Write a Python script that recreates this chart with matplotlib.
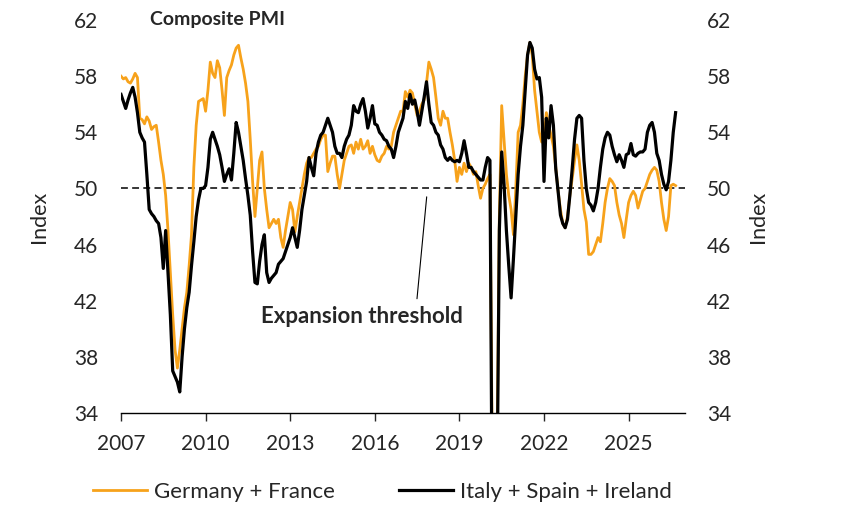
import numpy as np
import matplotlib
matplotlib.use('Agg')
import matplotlib.pyplot as plt

plt.rcParams['font.family'] = ['Lato', 'DejaVu Sans']

# monthly composite PMI, Jan 2007 onwards
ger_fra = [
    58.0, 57.8, 57.9, 57.6, 57.5, 57.8, 58.2, 57.9, 55.0, 54.9, 54.6, 55.1,  # 2007
    54.8, 54.2, 54.4, 54.5, 53.3, 52.0, 51.0, 49.5, 47.0, 44.0, 41.0, 38.5,  # 2008
    37.2, 38.5, 40.0, 41.5, 42.6, 44.5, 46.7, 51.5, 54.5, 56.2, 56.3, 56.4,  # 2009
    55.5, 57.0, 59.0, 58.2, 57.9, 59.1, 58.6, 57.0, 55.2, 57.9, 58.4, 58.8,  # 2010
    59.5, 60.0, 60.2, 59.3, 58.5, 57.5, 56.2, 53.5, 50.5, 48.0, 50.0, 52.0,  # 2011
    52.6, 50.0, 48.5, 47.2, 47.5, 47.8, 47.5, 47.8, 46.5, 45.8, 47.0, 48.0,  # 2012
    49.0, 48.5, 46.9, 48.0, 49.0, 50.0, 51.0, 51.8, 52.2, 52.2, 52.5, 52.8,  # 2013
    53.0, 53.5, 53.8, 53.8, 51.2, 51.8, 52.3, 52.3, 51.0, 50.0, 51.0, 52.0,  # 2014
    52.5, 53.0, 53.1, 52.5, 53.3, 52.8, 53.5, 52.8, 53.0, 53.4, 52.5, 53.0,  # 2015
    52.4, 52.0, 51.9, 52.3, 52.5, 53.0, 52.8, 53.0, 54.0, 54.5, 55.0, 55.5,  # 2016
    55.5, 56.9, 56.5, 57.0, 56.8, 56.0, 55.2, 55.5, 56.0, 56.3, 57.5, 59.0,  # 2017
    58.5, 57.9, 56.5, 55.0, 54.5, 55.5, 55.0, 55.0, 54.0, 53.1, 52.0, 50.5,  # 2018
    51.5, 51.0, 51.8, 51.2, 51.8, 51.5, 51.0, 51.2, 50.2, 49.3, 50.0, 50.3,  # 2019
    50.7, 51.0, 30.0, 13.0, 31.0, 48.0, 55.9, 53.5, 51.0, 49.5, 48.5, 46.7,  # 2020
    50.0, 54.0, 54.5, 56.0, 58.0, 59.5, 60.4, 59.5, 57.0, 55.5, 54.0, 53.3,  # 2021
    53.6, 55.4, 54.5, 53.8, 53.0, 51.5, 49.8, 48.5, 47.5, 47.2, 48.0, 49.5,  # 2022
    50.7, 52.0, 53.1, 52.0, 50.3, 48.5, 47.6, 45.3, 45.3, 45.5, 46.0, 46.5,  # 2023
    46.2, 47.5, 49.0, 50.0, 50.7, 50.5, 50.2, 49.0, 48.1, 47.5, 46.5, 47.8,  # 2024
    49.0, 49.5, 49.8, 49.5, 48.6, 49.2, 49.8, 50.0, 50.5, 51.0, 51.3, 51.5,  # 2025
    51.3, 50.5, 49.0, 47.8, 47.0, 48.0, 50.2, 50.3, 50.2,                    # 2026
]

ita_esp_irl = [
    56.7, 56.2, 55.7, 56.3, 56.8, 57.2, 56.5, 55.4, 54.0, 53.6, 53.3, 51.0,  # 2007
    48.5, 48.2, 48.0, 47.7, 47.5, 46.5, 44.3, 47.0, 44.0, 41.0, 37.0, 36.6,  # 2008
    36.2, 35.5, 38.0, 40.0, 41.5, 42.6, 44.5, 46.2, 48.0, 49.2, 50.0, 50.0,  # 2009
    50.2, 51.5, 53.5, 54.0, 53.5, 53.0, 52.4, 51.5, 50.5, 51.0, 51.4, 50.6,  # 2010
    52.5, 54.7, 54.0, 53.0, 52.0, 50.7, 49.5, 48.1, 45.5, 43.3, 43.2, 44.8,  # 2011
    46.0, 46.7, 44.0, 43.3, 43.6, 43.8, 44.0, 44.6, 44.8, 45.0, 45.5, 46.0,  # 2012
    46.5, 47.2, 46.5, 45.8, 47.0, 48.5, 49.5, 50.5, 52.2, 51.5, 50.9, 52.5,  # 2013
    53.3, 53.8, 54.0, 54.5, 55.0, 54.5, 54.0, 53.0, 52.5, 52.5, 52.2, 53.0,  # 2014
    53.5, 53.8, 54.5, 55.9, 55.5, 55.4, 56.0, 56.4, 55.5, 54.3, 55.0, 55.9,  # 2015
    54.6, 54.5, 54.0, 53.8, 53.5, 53.4, 53.0, 52.8, 52.2, 53.0, 54.0, 54.5,  # 2016
    55.0, 56.2, 55.7, 56.7, 56.0, 56.3, 55.5, 54.5, 55.5, 56.5, 57.6, 56.0,  # 2017
    54.7, 54.5, 54.0, 53.8, 53.1, 52.8, 52.2, 52.0, 52.2, 52.0, 51.9, 52.0,  # 2018
    51.9, 52.5, 53.4, 52.5, 51.5, 51.5, 51.2, 51.0, 50.8, 50.6, 50.6, 51.5,  # 2019
    52.2, 52.0, 25.0, 11.0, 28.0, 47.0, 52.6, 50.3, 47.0, 44.5, 42.2, 45.0,  # 2020
    48.0, 51.0, 53.0, 54.5, 57.0, 59.5, 60.4, 60.0, 58.5, 57.8, 57.9, 56.5,  # 2021
    50.5, 55.0, 53.6, 55.9, 54.5, 51.4, 49.8, 48.1, 47.5, 47.2, 47.8, 49.5,  # 2022
    51.4, 53.5, 55.0, 55.2, 55.0, 52.0, 50.0, 49.0, 48.8, 48.4, 49.0, 50.0,  # 2023
    51.5, 52.8, 53.6, 54.0, 53.8, 53.0, 52.4, 51.9, 52.4, 52.0, 51.5, 52.4,  # 2024
    52.5, 53.2, 52.4, 52.3, 52.5, 52.6, 52.6, 52.8, 54.0, 54.5, 54.7, 54.0,  # 2025
    52.5, 52.0, 51.0, 50.3, 49.9, 50.5, 52.0, 54.0, 55.4,                    # 2026
]

year_ticks = [2007, 2010, 2013, 2016, 2019, 2022, 2025]
y_ticks = [34, 38, 42, 46, 50, 54, 58, 62]
threshold = 50

x = 2007 + np.arange(len(ger_fra)) / 12
txt = '#262626'

fig = plt.figure(figsize=(8.47, 5.11), dpi=100)
ax = fig.add_axes([121 / 847, 1 - 413 / 511, 564 / 847, 393 / 511])

ax.axhline(threshold, color='black', lw=1.1, ls=(0, (4.5, 2.8)), zorder=1)
ax.plot(x, ger_fra, color='#F7A21B', lw=2.0, label='Germany + France', zorder=2)
ax.plot(x, ita_esp_irl, color='black', lw=2.3, label='Italy + Spain + Ireland', zorder=3)

ax.set_xlim(2007, 2027)
ax.set_ylim(34, 62)
ax.set_xticks(year_ticks)
ax.set_yticks(y_ticks)
ax.tick_params(axis='x', direction='out', length=6, width=1, pad=9,
               labelsize=15, colors=txt)
ax.tick_params(axis='y', length=0, pad=16.5, labelsize=15, colors=txt)
for s in ['left', 'right', 'top']:
    ax.spines[s].set_visible(False)
ax.spines['bottom'].set_linewidth(1)
ax.set_ylabel('Index', fontsize=15.5, labelpad=18, color=txt)

ax2 = ax.twinx()
ax2.set_ylim(34, 62)
ax2.set_yticks(y_ticks)
ax2.tick_params(axis='y', length=0, pad=15.8, labelsize=15, colors=txt)
for s in ['left', 'right', 'top', 'bottom']:
    ax2.spines[s].set_visible(False)
ax2.set_ylabel('Index', fontsize=15.5, labelpad=12, color=txt)

ax.text(0.052, 1.0, 'Composite PMI', transform=ax.transAxes, fontsize=14,
        fontweight='bold', ha='left', va='center', color=txt)

ax.annotate('Expansion threshold', xy=(2017.84, 49.4), xytext=(2015.54, 40.9),
            fontsize=16, fontweight='bold', ha='center', va='center', color=txt,
            arrowprops=dict(arrowstyle='-', color='black', lw=0.8,
                            relpos=(0.77, 1.0), shrinkA=3, shrinkB=0))

fig.legend(loc='center', bbox_to_anchor=(0.4516, 0.037), ncol=2, frameon=False,
           fontsize=16, handlelength=2.4, handletextpad=0.32, columnspacing=2.9,
           labelcolor=txt)

fig.savefig('out.png', dpi=100)
